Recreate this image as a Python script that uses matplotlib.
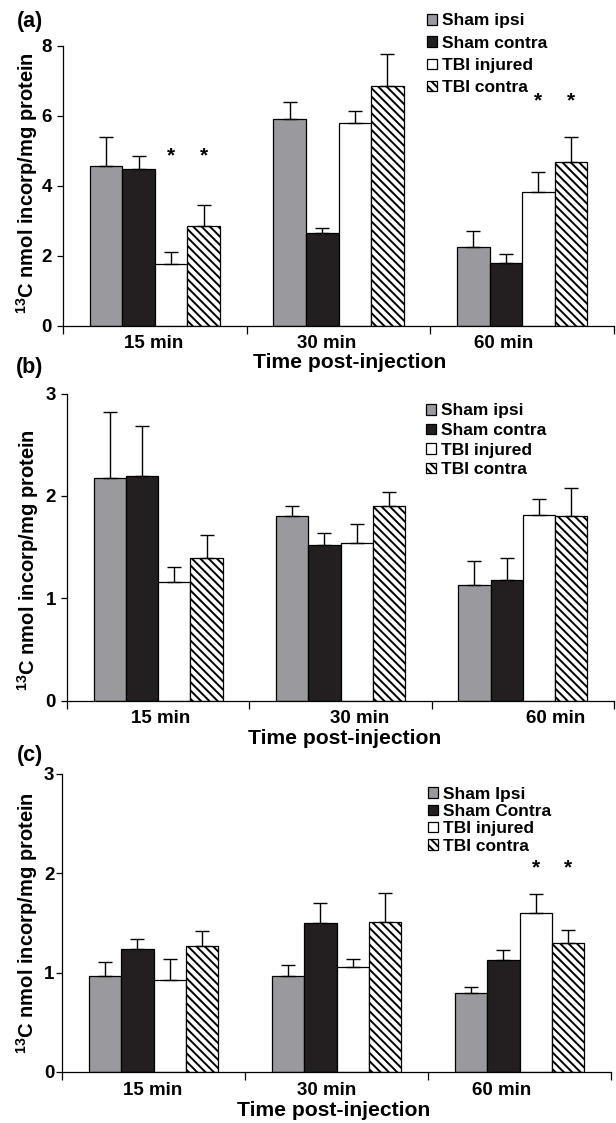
import numpy as np
import matplotlib.pyplot as plt
from matplotlib.patches import Patch

plt.rcParams.update({
    "font.family": "Liberation Sans",
    "font.weight": "bold",
    "axes.labelweight": "bold",
    "mathtext.fontset": "custom",
    "mathtext.rm": "Liberation Sans:bold",
    "mathtext.bf": "Liberation Sans:bold",
    "mathtext.default": "bf",
    "hatch.linewidth": 1.4,
    "axes.linewidth": 0.9,
})

groups = ["15 min", "30 min", "60 min"]
series_ab = ["Sham ipsi", "Sham contra", "TBI injured", "TBI contra"]
series_c = ["Sham Ipsi", "Sham Contra", "TBI injured", "TBI contra"]

# rows = series, columns = time point
a_mean = [[4.57, 5.91, 2.26], [4.47, 2.64, 1.78], [1.77, 5.80, 3.82], [2.85, 6.83, 4.68]]
a_err = [[0.81, 0.49, 0.43], [0.38, 0.15, 0.27], [0.33, 0.33, 0.58], [0.59, 0.92, 0.70]]
b_mean = [[2.17, 1.80, 1.13], [2.19, 1.52, 1.18], [1.16, 1.54, 1.81], [1.39, 1.90, 1.80]]
b_err = [[0.65, 0.10, 0.23], [0.49, 0.12, 0.21], [0.14, 0.18, 0.16], [0.23, 0.14, 0.28]]
c_mean = [[0.97, 0.97, 0.80], [1.24, 1.50, 1.13], [0.93, 1.06, 1.60], [1.27, 1.51, 1.30]]
c_err = [[0.14, 0.11, 0.06], [0.10, 0.20, 0.10], [0.21, 0.08, 0.19], [0.15, 0.29, 0.13]]

# significance stars: (time point, series, height)
a_stars = [(0, 2, 4.86), (0, 3, 4.86), (2, 2, 6.43), (2, 3, 6.43)]
b_stars = []
c_stars = [(2, 2, 2.05), (2, 3, 2.05)]

fills = ["#9a9a9e", "#231f20", "white", "white"]
hatches = [None, None, None, "\\\\\\\\"]
width = 0.177
offsets = (np.arange(4) - 1.5) * width

W, H = 616, 1123
fig = plt.figure(figsize=(W / 100, H / 100), dpi=100)


def fx(x):
    return x / W


def fy(y):
    return 1 - y / H


panels = [
    dict(tag="(a)", mean=a_mean, err=a_err, stars=a_stars, names=series_ab,
         box=(63, 614, 45.5, 325.7), ymax=8, yticks=[0, 2, 4, 6, 8], ypad=4,
         xt=[154, 327, 504], xl=(350, 363), yl=(27, 183), leg=(427, 13.5), lsp=0.42,
         lab=(30, 22)),
    dict(tag="(b)", mean=b_mean, err=b_err, stars=b_stars, names=series_ab,
         box=(67, 614, 393.5, 700.5), ymax=3, yticks=[0, 1, 2, 3], ypad=4,
         xt=[161, 360, 556], xl=(345, 738), yl=(28, 560), leg=(426, 403.5), lsp=0.26,
         lab=(30, 368)),
    dict(tag="(c)", mean=c_mean, err=c_err, stars=c_stars, names=series_c,
         box=(62, 611, 774, 1072), ymax=3, yticks=[0, 1, 2, 3], ypad=1.5,
         xt=[153, 327, 502], xl=(334, 1110), yl=(27, 923), leg=(428, 786.5), lsp=0.14,
         lab=(30, 755)),
]

for p in panels:
    x0, x1, ytop, ybot = p["box"]
    ax = fig.add_axes([fx(x0), fy(ybot), (x1 - x0) / W, (ybot - ytop) / H])
    x = np.arange(len(groups))
    for i in range(4):
        ax.bar(x + offsets[i], p["mean"][i], width, color=fills[i], edgecolor="black",
               linewidth=0.9, hatch=hatches[i], zorder=2)
        ax.errorbar(x + offsets[i], p["mean"][i], yerr=[np.zeros(3), p["err"][i]],
                    fmt="none", ecolor="black", elinewidth=1, capsize=5, capthick=1, zorder=3)
    for g, s, h in p["stars"]:
        ax.text(g + offsets[s], h, "*", ha="center", va="center", fontsize=15)

    ax.set_xlim(-0.5, 2.5)
    ax.set_ylim(0, p["ymax"])
    ax.set_yticks(p["yticks"])
    ax.tick_params(axis="y", length=4, width=0.9, pad=p["ypad"], labelsize=13.5)
    ax.set_xticks([-0.5, 0.5, 1.5, 2.5], minor=True)
    ax.tick_params(axis="x", which="minor", length=6, width=0.9, direction="out")
    tick_pos = [(t - x0) / (x1 - x0) * 3 - 0.5 for t in p["xt"]]
    ax.set_xticks(tick_pos, groups)
    ax.tick_params(axis="x", which="major", length=0, pad=7, labelsize=13.5)
    for sp in ["top", "right"]:
        ax.spines[sp].set_visible(False)

    ax.set_xlabel("Time post-injection", fontsize=15.2, va="center")
    ax.xaxis.set_label_coords(fx(p["xl"][0]), fy(p["xl"][1]), transform=fig.transFigure)
    ax.set_ylabel(r"$^{13}$C nmol incorp/mg protein", fontsize=14.5, va="center")
    ax.yaxis.set_label_coords(fx(p["yl"][0]), fy(p["yl"][1]), transform=fig.transFigure)

    handles = [Patch(facecolor=fills[i], edgecolor="black", linewidth=0.9, hatch=hatches[i])
               for i in range(4)]
    ax.legend(handles, p["names"], loc="upper left",
              bbox_to_anchor=(fx(p["leg"][0]), fy(p["leg"][1])), bbox_transform=fig.transFigure,
              frameon=False, borderaxespad=0, borderpad=0, fontsize=12.5,
              handlelength=0.55, handleheight=0.55, handletextpad=0.3, labelspacing=p["lsp"])

    fig.text(fx(p["lab"][0]), fy(p["lab"][1]), p["tag"], ha="center", va="center", fontsize=15.5)

fig.savefig("out.png", dpi=100)
